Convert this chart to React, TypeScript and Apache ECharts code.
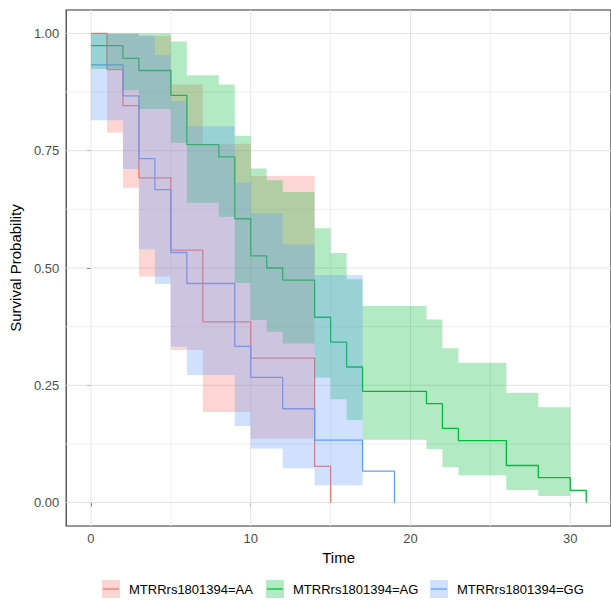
import React, { useEffect, useRef } from "react";
import * as echarts from "echarts";

// ---- data (Kaplan-Meier estimates and 95% CI) ----
const groupNames = ["MTRRrs1801394=AA", "MTRRrs1801394=AG", "MTRRrs1801394=GG"];
const lineColors = ["#F8766D", "#00BA38", "#619CFF"];
const bandColors = ["rgba(248,118,109,0.3)", "rgba(0,186,56,0.3)", "rgba(97,156,255,0.3)"];

const timeAA = [0, 1, 2, 3, 5, 7, 10, 14, 15];
const survAA = [1, 0.923, 0.846, 0.692, 0.538, 0.385, 0.308, 0.077, 0];
const lowerAA = [1, 0.789, 0.671, 0.482, 0.325, 0.193, 0.136, 0.012, null];
const upperAA = [1, 1, 1, 0.994, 0.891, 0.765, 0.696, 0.506, null];

const timeAG = [0, 2, 3, 5, 6, 8, 9, 10, 11, 12, 14, 15, 16, 17, 21, 22, 23, 26, 28, 30, 31];
const survAG = [0.974, 0.947, 0.921, 0.868, 0.763, 0.737, 0.605, 0.526, 0.5, 0.474, 0.395, 0.342, 0.289, 0.237, 0.211, 0.158, 0.132, 0.079, 0.053, 0.026, 0];
const lowerAG = [0.924, 0.879, 0.839, 0.767, 0.639, 0.609, 0.468, 0.389, 0.364, 0.339, 0.266, 0.22, 0.176, 0.134, 0.114, 0.076, 0.058, 0.027, 0.014, 0.004, null];
const upperAG = [1, 1, 1, 0.983, 0.911, 0.891, 0.782, 0.712, 0.687, 0.662, 0.585, 0.532, 0.476, 0.419, 0.39, 0.329, 0.298, 0.234, 0.203, 0.182, null];

const timeGG = [0, 2, 3, 4, 5, 6, 9, 10, 12, 14, 17, 19];
const survGG = [0.933, 0.867, 0.733, 0.667, 0.533, 0.467, 0.333, 0.267, 0.2, 0.133, 0.067, 0];
const lowerGG = [0.815, 0.711, 0.54, 0.466, 0.332, 0.272, 0.163, 0.115, 0.073, 0.037, 0.01, null];
const upperGG = [1, 1, 0.995, 0.954, 0.856, 0.802, 0.682, 0.617, 0.55, 0.485, 0.443, null];

const xTicks = [0, 10, 20, 30];
const xMinor = [5, 15, 25];
const yTicks = [0, 0.25, 0.5, 0.75, 1];
const yMinor = [0.125, 0.375, 0.625, 0.875];

const X_MIN = -1.55;
const X_MAX = 32.55;
const Y_MIN = -0.05;
const Y_MAX = 1.05;

const FONT = "'Liberation Sans', Arial, sans-serif";

function stepLine(name: string, t: number[], s: number[], color: string) {
  return {
    type: "line",
    name,
    step: "end",
    showSymbol: false,
    symbol: "none",
    z: 3,
    data: t.map((v, i) => [v, s[i]]),
    lineStyle: { color, width: 1.3 },
    itemStyle: { color },
    silent: true,
  };
}

function band(name: string, t: number[], lo: (number | null)[], hi: (number | null)[], fill: string) {
  const rows = t.map((v, i) => [v, lo[i], hi[i]]).filter((r) => r[1] != null);
  return {
    type: "custom",
    name: name + " CI",
    z: 4,
    silent: true,
    data: rows,
    encode: { x: 0, y: [1, 2] },
    renderItem: (params: any, api: any) => {
      if (params.dataIndex !== 0) return null;
      const top: number[][] = [];
      const bottom: number[][] = [];
      for (let i = 0; i < t.length - 1; i++) {
        if (lo[i + 1] == null) break;
        top.push(api.coord([t[i], hi[i]]), api.coord([t[i + 1], hi[i]]));
        bottom.push(api.coord([t[i], lo[i]]), api.coord([t[i + 1], lo[i]]));
      }
      const pts = top.concat(bottom.reverse());
      return { type: "polygon", shape: { points: pts }, style: { fill, stroke: null } };
    },
  };
}

function gridSeries() {
  const items: number[][] = [];
  xTicks.forEach((v) => items.push([v, 0, 1]));
  xMinor.forEach((v) => items.push([v, 0, 0]));
  yTicks.forEach((v) => items.push([0, v, 3]));
  yMinor.forEach((v) => items.push([0, v, 2]));
  return {
    type: "custom",
    name: "grid",
    z: 1,
    silent: true,
    data: items,
    encode: { x: 0, y: 1 },
    renderItem: (params: any, api: any) => {
      const kind = api.value(2);
      const major = kind === 1 || kind === 3;
      let p1, p2;
      if (kind <= 1) {
        const v = api.value(0);
        p1 = api.coord([v, Y_MIN]);
        p2 = api.coord([v, Y_MAX]);
      } else {
        const v = api.value(1);
        p1 = api.coord([X_MIN, v]);
        p2 = api.coord([X_MAX, v]);
      }
      return {
        type: "line",
        shape: { x1: p1[0], y1: p1[1], x2: p2[0], y2: p2[1] },
        style: { stroke: major ? "#e3e3e3" : "#eeeeee", lineWidth: 1 },
      };
    },
  };
}

const legendTextX = [129, 293, 457];
const LEGEND_Y = 589;

function legendGraphics() {
  const out: any[] = [];
  groupNames.forEach((g, i) => {
    const tx = legendTextX[i];
    out.push({
      type: "rect",
      shape: { x: tx - 27, y: LEGEND_Y - 9, width: 18, height: 18 },
      style: { fill: bandColors[i] },
      silent: true,
    });
    out.push({
      type: "line",
      shape: { x1: tx - 26, y1: LEGEND_Y, x2: tx - 10, y2: LEGEND_Y },
      style: { stroke: lineColors[i], lineWidth: 1.3 },
      silent: true,
    });
    out.push({
      type: "text",
      x: tx,
      y: LEGEND_Y,
      style: { text: g, fill: "#000", font: "13px " + FONT, textVerticalAlign: "middle", textAlign: "left" },
      silent: true,
    });
  });
  return out;
}

export default function App() {
  const ref = useRef<HTMLDivElement>(null);
  useEffect(() => {
    if (!ref.current) return;
    const chart = echarts.init(ref.current, null, { renderer: "svg" });
    chart.setOption({
      animation: false,
      backgroundColor: "#ffffff",
      grid: {
        left: 65,
        top: 10,
        width: 552,
        height: 516,
        show: true,
        backgroundColor: "#ffffff",
        borderColor: "#333333",
        borderWidth: 1.2,
      },
      xAxis: {
        type: "value",
        min: X_MIN,
        max: X_MAX,
        name: "Time",
        nameLocation: "middle",
        nameGap: 22,
        nameTextStyle: { color: "#000", fontSize: 15, fontFamily: FONT },
        axisLine: { show: false },
        axisTick: { show: true, customValues: xTicks, length: 4, lineStyle: { color: "#333333" } },
        axisLabel: {
          customValues: xTicks,
          color: "#4d4d4d",
          fontSize: 13,
          fontFamily: FONT,
          margin: 6,
          formatter: (v: number) => String(v),
        },
        splitLine: { show: false },
      },
      yAxis: {
        type: "value",
        min: Y_MIN,
        max: Y_MAX,
        name: "Survival Probability",
        nameLocation: "middle",
        nameGap: 38,
        nameTextStyle: { color: "#000", fontSize: 15, fontFamily: FONT },
        axisLine: { show: false },
        axisTick: { show: true, customValues: yTicks, length: 4, lineStyle: { color: "#333333" } },
        axisLabel: {
          customValues: yTicks,
          color: "#4d4d4d",
          fontSize: 13,
          fontFamily: FONT,
          margin: 7,
          formatter: (v: number) => v.toFixed(2),
        },
        splitLine: { show: false },
      },
      series: [
        gridSeries(),
        stepLine(groupNames[0], timeAA, survAA, lineColors[0]),
        stepLine(groupNames[1], timeAG, survAG, lineColors[1]),
        stepLine(groupNames[2], timeGG, survGG, lineColors[2]),
        band(groupNames[0], timeAA, lowerAA, upperAA, bandColors[0]),
        band(groupNames[1], timeAG, lowerAG, upperAG, bandColors[1]),
        band(groupNames[2], timeGG, lowerGG, upperGG, bandColors[2]),
      ],
      graphic: legendGraphics(),
    });
    return () => chart.dispose();
  }, []);
  return <div ref={ref} style={{ position: "fixed", left: 0, top: 0, width: 611, height: 612 }} />;
}
